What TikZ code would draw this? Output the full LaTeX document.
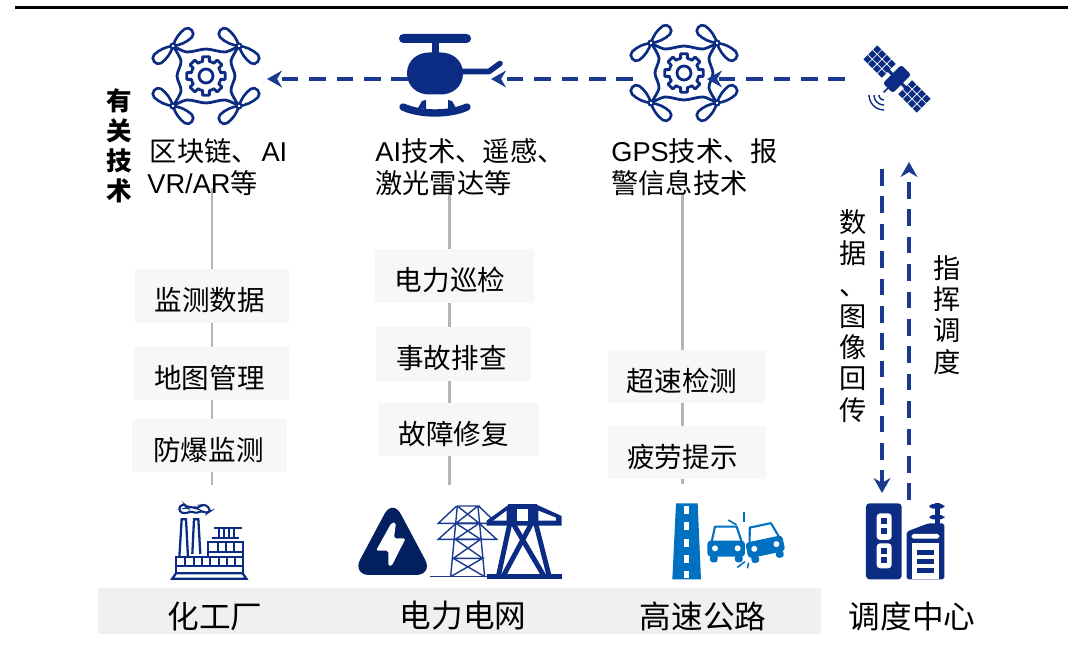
\documentclass[tikz,border=0pt]{standalone}
\usepackage{fontspec}
\setmainfont{Noto Sans CJK SC}
\newfontfamily\latinfont{Liberation Sans}
\usepackage{tikz}
\usetikzlibrary{arrows.meta}
\definecolor{navy}{HTML}{0B2C82}
\definecolor{navyline}{HTML}{1A3A8F}
\definecolor{navydark}{HTML}{022060}
\definecolor{roadblue}{HTML}{0070C0}
\definecolor{guide}{HTML}{B4B4B4}
\newcommand{\lat}[1]{{\latinfont #1}}
\tikzstyle{tech} = [anchor=west, align=left, inner sep=0pt, font=\fontsize{15.5}{18}\selectfont]
\tikzstyle{task} = [rectangle, fill=black!3, minimum width=3.1cm, minimum height=1.07cm, inner sep=0pt, text height=18.9pt, text depth=2pt, font=\fontsize{15.7}{18}\selectfont]
\tikzstyle{place} = [inner sep=0pt, font=\fontsize{18}{20}\selectfont]
\tikzstyle{stack} = [align=center, inner sep=0pt, font=\fontsize{15.5}{17.8}\selectfont]
\tikzstyle{guideline} = [guide, line width=1.7pt]
\tikzstyle{flow} = [navyline, line width=2.2pt, dash pattern=on 9.4pt off 6.2pt, -{Stealth[length=8.5pt,width=9.5pt]}]
\tikzset{
  blade/.pic={
    \draw[navy, line width=1.5pt] (0,0) .. controls (6,-4) and (13,-6) .. (20,-5.5) .. controls (26,-5) and (26,5) .. (20,5.5) .. controls (13,6) and (6,4) .. (0,0);
  },
  drone/.pic={
    \begin{scope}[navy, line width=1.6pt, line join=round]
      \draw plot[smooth] coordinates {(-33,-30) (-19,-24) (0,-27) (19,-24) (33,-30)};
      \draw plot[smooth] coordinates {(-33,30) (-19,24) (0,27) (19,24) (33,30)};
      \draw plot[smooth] coordinates {(-33,-30) (-25,-15) (-29,0) (-25,15) (-33,30)};
      \draw plot[smooth] coordinates {(33,-30) (25,-15) (29,0) (25,15) (33,30)};
      \foreach \a in {0,45,...,315}
        \draw (\a-22.5:15) -- (\a-13:15) -- (\a-10:19.5) -- (\a+10:19.5) -- (\a+13:15) -- (\a+22.5:15);
      \draw (0,0) circle (7);
    \end{scope}
    % four rotors
    \foreach \hx/\hy/\r in {-33/-30/40, 33/-30/-40, -33/30/-40, 33/30/40} {
      \pic[rotate=\r] at (\hx,\hy) {blade};
      \pic[rotate=\r+180] at (\hx,\hy) {blade};
      \draw[navy, fill=white, line width=1.2pt] (\hx,\hy) circle (2.5);
    }
  },
  crashcar/.pic={
    \draw[roadblue, line width=1.2pt, line join=round] (-43,-5) -- (-33,-50) -- (32,-50) -- (47,-5);
    \fill[roadblue, rounded corners=2pt] (-56,-8) rectangle (57,40);
    \fill[roadblue, rounded corners=1.5pt] (-48,35) rectangle (-25,57);
    \fill[roadblue, rounded corners=1.5pt] (27,35) rectangle (50,57);
    \fill[white] (-33,15) circle (9);
    \fill[white] (35,15) circle (9);
  }
}

\begin{document}
\begin{tikzpicture}[x=0.02cm, y=-0.02cm]
    \useasboundingbox (0,0) rectangle (1081,671);
    \draw[black, line width=1.7pt] (15,8) -- (1068,8);

    % guide lines go first, the boxes sit on them
    \coordinate (guideAtop) at (212,188);
    \coordinate (guideAend) at (212,485);
    \coordinate (guideBtop) at (449,190);
    \coordinate (guideBend) at (449,485);
    \coordinate (guideCtop) at (682,193);
    \coordinate (guideCend) at (682,484);
    \draw [guideline] (guideAtop) -- (guideAend);
    \draw [guideline] (guideBtop) -- (guideBend);
    \draw [guideline] (guideCtop) -- (guideCend);

    \node (monitor) [task, minimum width=3.08cm] at (212,296) {监测数据\hspace*{2.3pt}};
    \node (mapping) [task, minimum width=3.1cm] at (211.5,373.5) {地图管理\hspace*{2.3pt}};
    \node (blast) [task, minimum width=3.1cm] at (209.5,445.5) {防爆监测\hspace*{1.1pt}};
    \node (patrol) [task, minimum width=3.18cm] at (454.5,276) {电力巡检\hspace*{5.1pt}};
    \node (accident) [task, minimum width=3.1cm] at (453.5,354) {事故排查\hspace*{2.3pt}};
    \node (repair) [task, minimum width=3.2cm] at (459,429.5) {故障修复\hspace*{5.7pt}};
    \node (speed) [task, minimum width=3.16cm] at (687,376.5) {超速检测\hspace*{5.7pt}};
    \node (fatigue) [task, minimum width=3.16cm] at (687,452.5) {疲劳提示\hspace*{5.1pt}};

    \node (techA) [tech] at (147,167) {\hspace*{1.5pt}区块链、\hspace{1.5pt}\lat{AI}\\\lat{VR/AR}等};
    \node (techB) [tech] at (375,167) {\lat{AI}技术、遥感、\\激光雷达等};
    \node (techC) [tech] at (611,167) {\lat{GPS}技术、报\\警信息技术};
    \node (techTitle) [stack, font=\fontsize{14.5}{17}\selectfont\bfseries] at (119,146) {有\\关\\技\\术};

    % top row icons
    \pic (droneA) at (206,76) {drone};
    \pic (droneB) at (684,73) {drone};

    % helicopter
    \fill[navy, rounded corners=2.5pt] (399,34) rectangle (471,43);
    \fill[navy] (432,42) rectangle (439,56);
    \fill[navy] (407,73.5) .. controls (407,60) and (418,52.5) .. (429,52.5) -- (441,52.5) .. controls (452,52.5) and (463,60) .. (463,73.5) .. controls (463,87) and (452,94.5) .. (441,94.5) -- (429,94.5) .. controls (418,94.5) and (407,87) .. (407,73.5);
    \draw[navy, line width=3.2pt, line cap=round, line join=round] (460,71.5) -- (489,71.5) -- (500,63.5);
    \draw[navy, line width=4.2pt, line cap=round] (403,107) .. controls (420,115) and (450,115) .. (467,107);
    \fill[navy] (422,101) -- (426,100) -- (426,109) -- (418,108) -- cycle;
    \fill[navy] (448,100) -- (452,101) -- (456,108) -- (448,109) -- cycle;

    % satellite
    \begin{scope}[shift={(897,79)}, rotate=-45]
        \fill[navy, rounded corners=1.5pt] (-7,-13) rectangle (7,13);
        \fill[navy] (-12,-1.5) rectangle (12,1.5);
        \foreach \s in {-1,1}
          \foreach \i in {0,1,2,3}
            \foreach \j in {-1,0,1}
              \fill[navy] ({\s*(14.5+\i*6.8)-2.9},{\j*6.9-2.9}) rectangle ++(5.8,5.8);
        \draw[navy, line width=0.9pt] (0,13) -- (0,19);
    \end{scope}
    \begin{scope}[shift={(884,95)}]
        \foreach \r in {5,10,15}
          \draw[navy, line width=0.8pt] plot[smooth, domain=90:180, samples=7] (\x:\r);
    \end{scope}

    % horizontal flow
    \coordinate (satOut) at (845,79);
    \coordinate (droneBin) at (707,79);
    \coordinate (droneBout) at (633,79);
    \coordinate (heliIn) at (491,79);
    \coordinate (heliOut) at (408,79);
    \coordinate (droneAin) at (267,79);
    \draw [flow] (satOut) -- (droneBin);
    \draw [flow] (droneBout) -- (heliIn);
    \draw [flow] (heliOut) -- (droneAin);

    % vertical flow
    \coordinate (downStart) at (882,169);
    \coordinate (downEnd) at (882,493);
    \coordinate (upStart) at (909,500);
    \coordinate (upEnd) at (909,162);
    \draw [flow] (downStart) -- (downEnd);
    \draw [flow] (upStart) -- (upEnd);
    \node (backLabel) [stack] at (853,316) {数\\据\\、\\图\\像\\回\\传};
    \node (cmdLabel) [stack] at (947,315) {指\\挥\\调\\度};

    % bottom band
    \fill[black!6, rounded corners=1pt] (98,588) rectangle (821,634);
    \node (chem) [place] at (215,616) {化工厂};
    \node (grid) [place] at (463,616) {电力电网};
    \node (road) [place] at (703,616) {高速公路};
    \node (center) [place] at (912,616) {调度中心};

    % factory and grid icons
    \begin{scope}[shift={(90,480)}, scale=0.3333]
        \begin{scope}[navy, line width=1.3pt, line join=miter]
            \draw (247,296) -- (258,280) -- (458,280) -- (469,296) -- cycle;
            \draw (258,280) -- (258,232) -- (458,232) -- (458,280);
            \draw (258,258) -- (458,258);
            \foreach \wx in {286,311,336,361,386,411,434}
              \draw (\wx,234) -- (\wx,257);
            \draw (355,232) -- (355,187) -- (460,187) -- (460,232);
            \draw (356,217) -- (458,217);
            \foreach \wx in {384,408,432}
              \draw (\wx,190) -- (\wx,216);
            \draw (268,232) -- (275,118) -- (288,118) -- (294,232);
            \draw (307,222) -- (312,118) -- (325,118) -- (331,222);
            \draw (372,143) -- (455,143);
            \foreach \wx in {387,402,417,432}
              \draw (\wx,145) -- (\wx,172);
            \draw (366,174) -- (448,174);
            \draw[line width=1.2pt, rounded corners=1.5pt] (268,78) -- (285,73) -- (292,84) -- (305,80) -- (318,86) -- (335,76) -- (348,74) -- (362,92) -- (350,100) -- (335,92) -- (320,100) -- (303,94) -- (285,101) -- (268,95) -- cycle;
        \end{scope}
        \fill[navydark, rounded corners=10pt] (908,56) -- (786,285) -- (1030,285) -- cycle;
        \fill[white, rounded corners=1pt] (905,128) -- (858,212) -- (895,212) -- (895,258) -- (905,258) -- (947,175) -- (912,175) -- (918,128) -- cycle;
        % thin tower
        \begin{scope}[navyline, line width=0.8pt]
            \draw (1020,290) -- (1190,290);
            \draw (1102,78) -- (1082,290);
            \draw (1164,78) -- (1184,290);
            \draw (1102,78) -- (1164,78) -- (1098,130) -- (1168,130) -- (1096,178) -- (1172,178) -- (1090,235) -- (1178,235) -- (1082,290);
            \draw (1102,78) -- (1168,130) -- (1096,130);
            \draw (1098,130) -- (1172,178);
            \draw (1096,178) -- (1178,235);
            \draw (1090,235) -- (1184,290);
            \draw (1100,78) -- (1045,130) -- (1220,130) -- (1166,78);
            \draw (1098,130) -- (1045,178) -- (1220,178) -- (1168,130);
        \end{scope}
        % heavy tower
        \begin{scope}[navy, line width=2.8pt, line join=miter]
            \draw (1190,290) -- (1415,290);
            \draw (1270,82) -- (1225,290);
            \draw (1325,82) -- (1378,290);
            \draw (1255,78) -- (1342,78);
            \draw (1268,128) -- (1362,288);
            \draw (1326,128) -- (1240,288);
            \fill (1190,122) -- (1255,75) -- (1342,75) -- (1415,108) -- (1415,137) -- (1190,137) -- cycle;
            \fill[white] (1280,87) rectangle (1315,124);
            \fill[white] (1345,92) -- (1398,113) -- (1398,122) -- (1345,122) -- cycle;
            \fill[white] (1250,92) -- (1210,122) -- (1250,122) -- cycle;
        \end{scope}
    \end{scope}

    % road, cars and dispatch centre icons
    \begin{scope}[shift={(600,460)}, scale=0.3333]
        \fill[roadblue] (228,130) -- (293,130) -- (303,358) -- (217,358) -- cycle;
        \foreach \dy in {138,187,237,285,332}
          \fill[white] (253,\dy) rectangle ++(15,23);
        \pic[scale=0.3333] at (378,250) {crashcar};
        \pic[scale=0.3333, rotate=12] at (492,245) {crashcar};
        \draw[roadblue, line width=0.9pt] (385,180) -- (410,195);
        \draw[roadblue, line width=0.9pt] (432,155) -- (432,185);
        \draw[roadblue, line width=0.9pt] (412,322) -- (435,305);
        \draw[roadblue, line width=0.9pt] (442,325) -- (446,308);
        \fill[navy, rounded corners=2pt] (798,130) rectangle (905,358);
        \fill[white, rounded corners=2pt] (830,160) rectangle (875,240);
        \fill[white, rounded corners=2pt] (830,250) rectangle (875,325);
        \foreach \dy in {183,213,272,300}
          \fill[navy] (844,\dy-9) rectangle ++(18,18);
        \fill[navy, rounded corners=1pt] (920,358) -- (920,215) -- (985,190) -- (1033,190) -- (1033,358) -- cycle;
        \fill[white, rounded corners=1pt] (935,222) rectangle (1018,236);
        \fill[white] (935,250) rectangle (1018,358);
        \foreach \dy in {270,297,325}
          \fill[navy] (950,\dy) rectangle (1003,\dy+15);
        \fill[navy] (1005,130) rectangle (1020,195);
        \fill[navy, rounded corners=2pt] (988,132) rectangle (1033,146);
        \fill[navy, rounded corners=2pt] (988,165) rectangle (1033,178);
    \end{scope}
\end{tikzpicture}
\end{document}
